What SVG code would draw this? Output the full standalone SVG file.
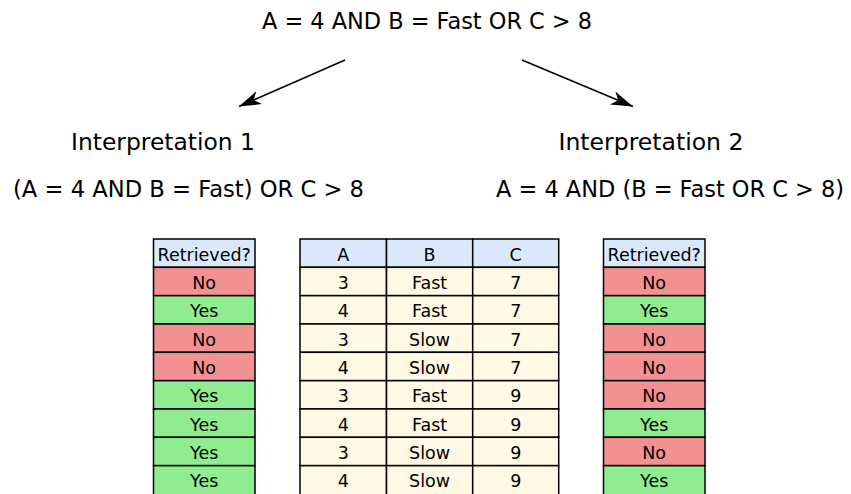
<svg xmlns="http://www.w3.org/2000/svg" width="851" height="494" viewBox="0 0 851 494">
<style>
text{font-family:"DejaVu Sans",Verdana,sans-serif;fill:#000}
.t{font-size:23px}
.c{font-size:17.5px;text-anchor:middle}
.hd{fill:#dae8fc;stroke:#000;stroke-width:1.5}
.no{fill:#f19191;stroke:#000;stroke-width:1.5}
.yes{fill:#90ec90;stroke:#000;stroke-width:1.5}
.dat{fill:#fef8e4;stroke:#000;stroke-width:1.5}
.ln{stroke:#000;stroke-width:1.5;fill:none}
</style>
<defs>
<marker id="ah" markerUnits="userSpaceOnUse" markerWidth="24" markerHeight="16" viewBox="0 0 24 16" refX="22" refY="8" orient="auto">
<path d="M0,1 L22,8 L0,15 L6,8 z" fill="#000"/>
</marker>
</defs>
<rect width="851" height="494" fill="#fff"/>
<g id="title"><text class="t" x="262" y="28.5" textLength="330" lengthAdjust="spacingAndGlyphs">A = 4 AND B = Fast OR C &gt; 8</text></g>
<g id="connectors">
<line class="ln" x1="345" y1="60" x2="239" y2="106.5" marker-end="url(#ah)"/>
<line class="ln" x1="522" y1="60" x2="633" y2="106.5" marker-end="url(#ah)"/>
</g>
<g id="interp1">
<text class="t" x="71" y="150" textLength="184" lengthAdjust="spacingAndGlyphs">Interpretation 1</text>
<text class="t" x="13" y="196.5" textLength="351" lengthAdjust="spacingAndGlyphs">(A = 4 AND B = Fast) OR C &gt; 8</text>
</g>
<g id="interp2">
<text class="t" x="558.5" y="150" textLength="185" lengthAdjust="spacingAndGlyphs">Interpretation 2</text>
<text class="t" x="496" y="196.5" textLength="348" lengthAdjust="spacingAndGlyphs">A = 4 AND (B = Fast OR C &gt; 8)</text>
</g>
<g id="table-left">
<rect class="hd" x="153.5" y="239" width="101.5" height="28.3"/>
<rect class="no" x="153.5" y="267.3" width="101.5" height="28.3"/>
<rect class="yes" x="153.5" y="295.7" width="101.5" height="28.3"/>
<rect class="no" x="153.5" y="324" width="101.5" height="28.3"/>
<rect class="no" x="153.5" y="352.3" width="101.5" height="28.3"/>
<rect class="yes" x="153.5" y="380.7" width="101.5" height="28.3"/>
<rect class="yes" x="153.5" y="409" width="101.5" height="28.3"/>
<rect class="yes" x="153.5" y="437.3" width="101.5" height="28.3"/>
<rect class="yes" x="153.5" y="465.7" width="101.5" height="30"/>
<text class="c" x="204.2" y="260.5">Retrieved?</text>
<text class="c" x="204.2" y="288.8">No</text>
<text class="c" x="204.2" y="317.2">Yes</text>
<text class="c" x="204.2" y="345.5">No</text>
<text class="c" x="204.2" y="373.8">No</text>
<text class="c" x="204.2" y="402.2">Yes</text>
<text class="c" x="204.2" y="430.5">Yes</text>
<text class="c" x="204.2" y="458.8">Yes</text>
<text class="c" x="204.2" y="487.2">Yes</text>
</g>
<g id="table-data">
<rect class="hd" x="300" y="239" width="86.5" height="28.3"/>
<rect class="hd" x="386.5" y="239" width="86.2" height="28.3"/>
<rect class="hd" x="472.7" y="239" width="86" height="28.3"/>
<g class="rows">
<rect class="dat" x="300" y="267.3" width="86.5" height="28.3"/><rect class="dat" x="386.5" y="267.3" width="86.2" height="28.3"/><rect class="dat" x="472.7" y="267.3" width="86" height="28.3"/>
<rect class="dat" x="300" y="295.7" width="86.5" height="28.3"/><rect class="dat" x="386.5" y="295.7" width="86.2" height="28.3"/><rect class="dat" x="472.7" y="295.7" width="86" height="28.3"/>
<rect class="dat" x="300" y="324" width="86.5" height="28.3"/><rect class="dat" x="386.5" y="324" width="86.2" height="28.3"/><rect class="dat" x="472.7" y="324" width="86" height="28.3"/>
<rect class="dat" x="300" y="352.3" width="86.5" height="28.3"/><rect class="dat" x="386.5" y="352.3" width="86.2" height="28.3"/><rect class="dat" x="472.7" y="352.3" width="86" height="28.3"/>
<rect class="dat" x="300" y="380.7" width="86.5" height="28.3"/><rect class="dat" x="386.5" y="380.7" width="86.2" height="28.3"/><rect class="dat" x="472.7" y="380.7" width="86" height="28.3"/>
<rect class="dat" x="300" y="409" width="86.5" height="28.3"/><rect class="dat" x="386.5" y="409" width="86.2" height="28.3"/><rect class="dat" x="472.7" y="409" width="86" height="28.3"/>
<rect class="dat" x="300" y="437.3" width="86.5" height="28.3"/><rect class="dat" x="386.5" y="437.3" width="86.2" height="28.3"/><rect class="dat" x="472.7" y="437.3" width="86" height="28.3"/>
<rect class="dat" x="300" y="465.7" width="86.5" height="30"/><rect class="dat" x="386.5" y="465.7" width="86.2" height="30"/><rect class="dat" x="472.7" y="465.7" width="86" height="30"/>
</g>
<text class="c" x="343.2" y="260.5">A</text><text class="c" x="429.6" y="260.5">B</text><text class="c" x="515.7" y="260.5">C</text>
<text class="c" x="343.2" y="288.8">3</text><text class="c" x="429.6" y="288.8">Fast</text><text class="c" x="515.7" y="288.8">7</text>
<text class="c" x="343.2" y="317.2">4</text><text class="c" x="429.6" y="317.2">Fast</text><text class="c" x="515.7" y="317.2">7</text>
<text class="c" x="343.2" y="345.5">3</text><text class="c" x="429.6" y="345.5">Slow</text><text class="c" x="515.7" y="345.5">7</text>
<text class="c" x="343.2" y="373.8">4</text><text class="c" x="429.6" y="373.8">Slow</text><text class="c" x="515.7" y="373.8">7</text>
<text class="c" x="343.2" y="402.2">3</text><text class="c" x="429.6" y="402.2">Fast</text><text class="c" x="515.7" y="402.2">9</text>
<text class="c" x="343.2" y="430.5">4</text><text class="c" x="429.6" y="430.5">Fast</text><text class="c" x="515.7" y="430.5">9</text>
<text class="c" x="343.2" y="458.8">3</text><text class="c" x="429.6" y="458.8">Slow</text><text class="c" x="515.7" y="458.8">9</text>
<text class="c" x="343.2" y="487.2">4</text><text class="c" x="429.6" y="487.2">Slow</text><text class="c" x="515.7" y="487.2">9</text>
</g>
<g id="table-right">
<rect class="hd" x="603.5" y="239" width="101.5" height="28.3"/>
<rect class="no" x="603.5" y="267.3" width="101.5" height="28.3"/>
<rect class="yes" x="603.5" y="295.7" width="101.5" height="28.3"/>
<rect class="no" x="603.5" y="324" width="101.5" height="28.3"/>
<rect class="no" x="603.5" y="352.3" width="101.5" height="28.3"/>
<rect class="no" x="603.5" y="380.7" width="101.5" height="28.3"/>
<rect class="yes" x="603.5" y="409" width="101.5" height="28.3"/>
<rect class="no" x="603.5" y="437.3" width="101.5" height="28.3"/>
<rect class="yes" x="603.5" y="465.7" width="101.5" height="30"/>
<text class="c" x="654.2" y="260.5">Retrieved?</text>
<text class="c" x="654.2" y="288.8">No</text>
<text class="c" x="654.2" y="317.2">Yes</text>
<text class="c" x="654.2" y="345.5">No</text>
<text class="c" x="654.2" y="373.8">No</text>
<text class="c" x="654.2" y="402.2">No</text>
<text class="c" x="654.2" y="430.5">Yes</text>
<text class="c" x="654.2" y="458.8">No</text>
<text class="c" x="654.2" y="487.2">Yes</text>
</g>
</svg>
